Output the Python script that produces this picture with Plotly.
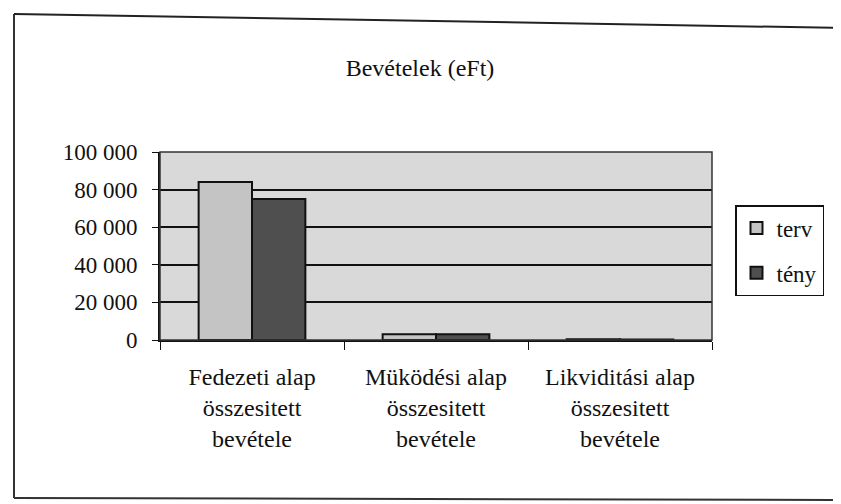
import plotly.graph_objects as go

categories = ["Fedezeti alap<br>összesitett<br>bevétele",
              "Müködési alap<br>összesitett<br>bevétele",
              "Likviditási alap<br>összesitett<br>bevétele"]
terv = [84000, 3000, 400]
teny = [75000, 3000, 300]
tick_vals = [0, 20000, 40000, 60000, 80000, 100000]
tick_text = ["0", "20 000", "40 000", "60 000", "80 000", "100 000"]

font = "Liberation Serif, Times New Roman, serif"

# page body has an 8px margin: compensate in margins
OFF = 8
L, R, T, B = 160, 712, 152, 340  # plot area in screen px
W, H = 841, 504
PW, PH = R - L, B - T


def px(x):
    return (x - L) / PW


def py(y):
    return (B - y) / PH


fig = go.Figure()
fig.add_trace(go.Bar(name="terv", x=categories, y=terv, legendgroup="a",
                     marker=dict(color="#c4c4c4", line=dict(color="#111", width=2))))
fig.add_trace(go.Bar(name="tény", x=categories, y=teny, legendgroup="b",
                     marker=dict(color="#4f4f4f", line=dict(color="#111", width=2))))

fig.update_layout(
    width=W, height=H,
    margin=dict(l=L - OFF, r=W + OFF - R, t=T - OFF, b=H + OFF - B),
    paper_bgcolor="white", plot_bgcolor="#d9d9d9",
    font=dict(family=font, size=23, color="#111"),
    title=dict(text="Bevételek (eFt)", x=(420 - OFF) / W, xref="container",
               y=1 - (68 - OFF) / H, yref="container",
               xanchor="center", yanchor="middle",
               font=dict(family=font, size=24, color="#111")),
    barmode="group", bargap=0.42, bargroupgap=0.0,
    legend=dict(x=px(735), y=py(205), xanchor="left", yanchor="top",
                bordercolor="#111", borderwidth=1.5, bgcolor="white",
                tracegroupgap=12, itemwidth=30, font=dict(family=font, size=23)),
    xaxis=dict(showline=True, linecolor="#111", linewidth=2, tickson="boundaries",
               ticks="outside", ticklen=8, tickcolor="#111", showgrid=False,
               ticklabelstandoff=14, tickfont=dict(size=24)),
    yaxis=dict(range=[0, 100000], tickvals=tick_vals, ticktext=tick_text,
               showline=True, linecolor="#111", linewidth=2, ticks="outside",
               ticklen=6, tickcolor="#111", showgrid=True, gridcolor="#111",
               gridwidth=2, zeroline=False, ticklabelstandoff=10,
               tickfont=dict(size=23)),
    showlegend=True,
)
# plot area frame (top/right)
fig.add_shape(type="rect", xref="paper", yref="paper", x0=0, y0=0, x1=1, y1=1,
              line=dict(color="#333", width=1.5))
# outer chart border
fig.add_shape(type="line", xref="paper", yref="paper", x0=px(14), x1=px(14),
              y0=py(14), y1=py(498), line=dict(color="#333", width=2))
fig.add_shape(type="line", xref="paper", yref="paper", x0=px(14), x1=px(845),
              y0=py(14), y1=py(28), line=dict(color="#222", width=2))
fig.add_shape(type="line", xref="paper", yref="paper", x0=px(14), x1=px(845),
              y0=py(498), y1=py(500), line=dict(color="#333", width=2))

fig.write_html("out.html")
